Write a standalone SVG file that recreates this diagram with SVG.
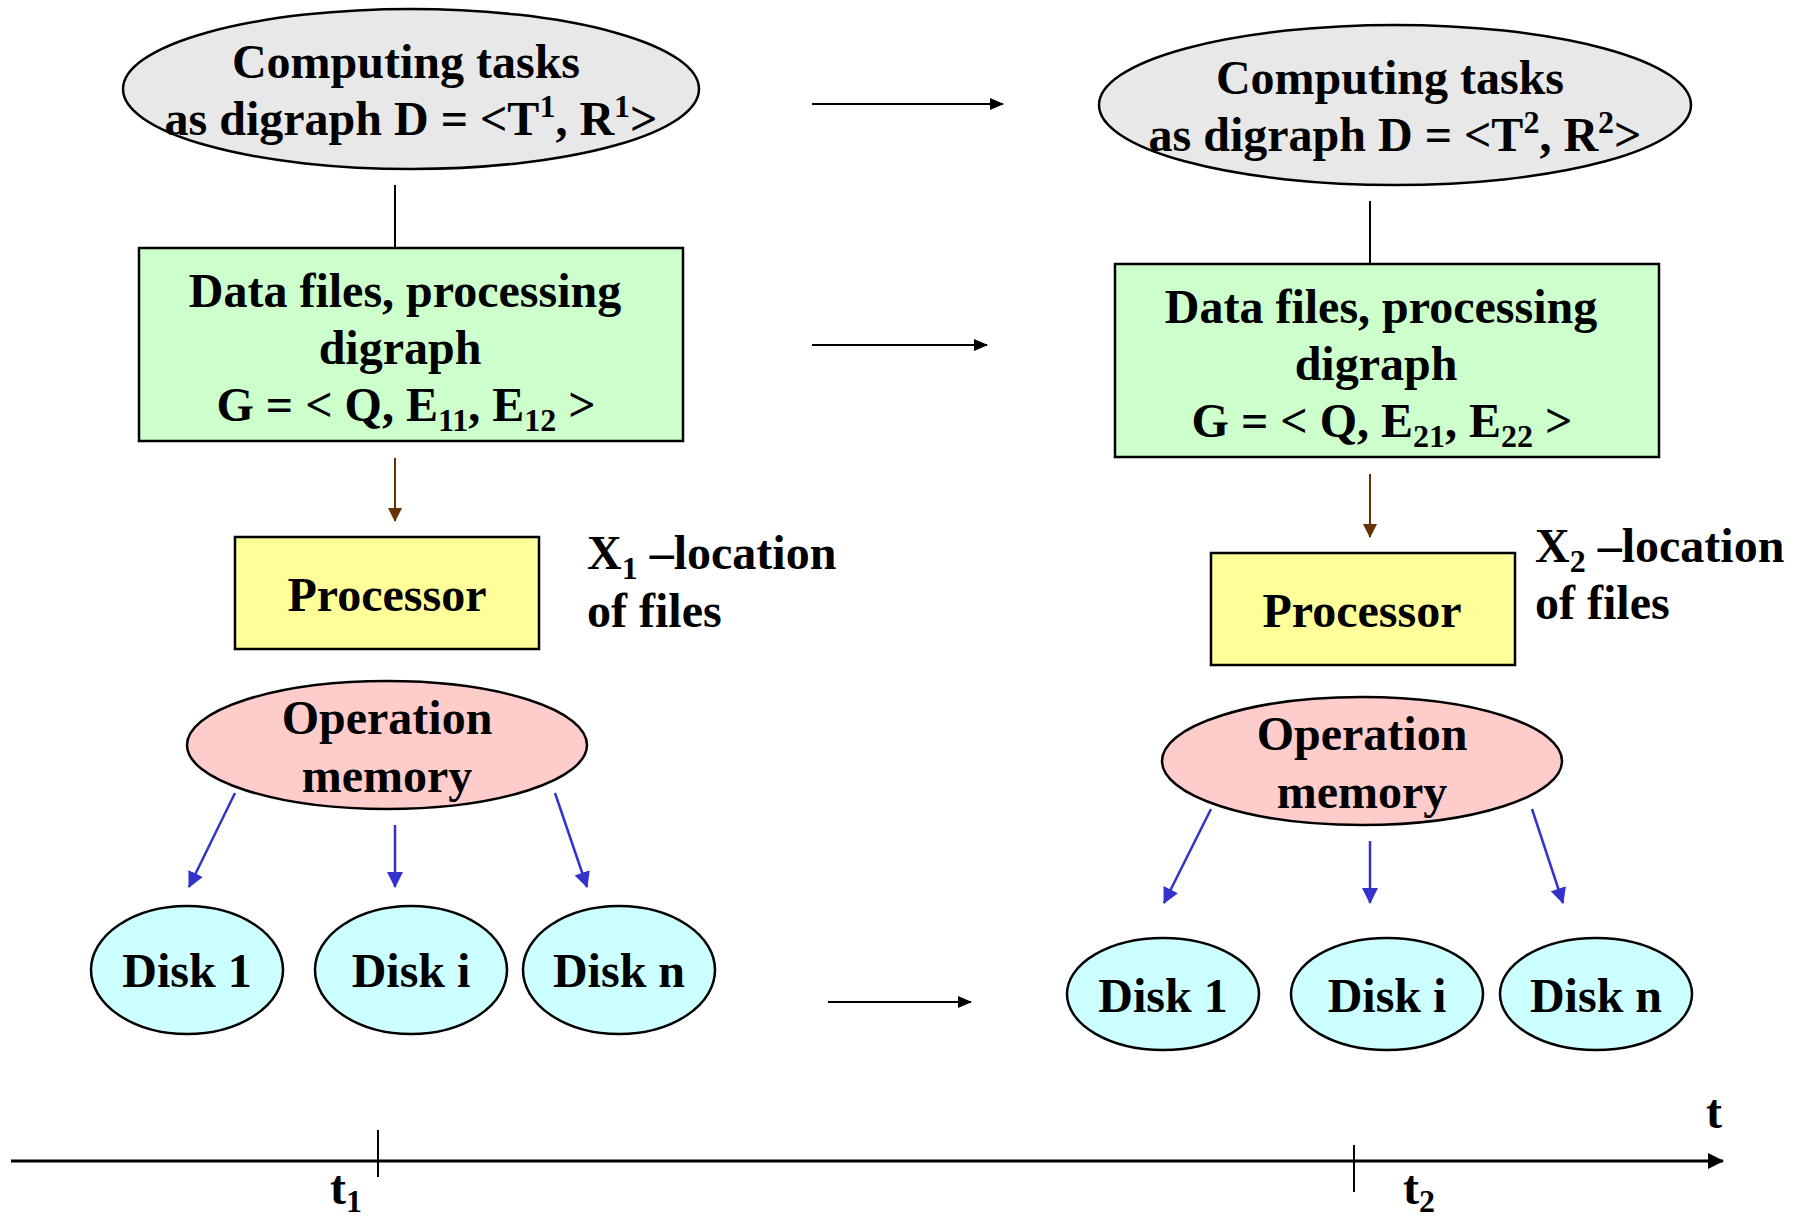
<svg xmlns="http://www.w3.org/2000/svg" width="1795" height="1221" viewBox="0 0 1795 1221">
<defs>
<style>
.t{font-family:"Liberation Serif","Times New Roman",serif;font-weight:bold;font-size:48px;fill:#000;text-anchor:middle}
.l{text-anchor:start}
.sm{font-size:32px}
.node{stroke:#000;stroke-width:2.5}
.gray{fill:#e8e8e8}
.green{fill:#ccffcc}
.yellow{fill:#ffff99}
.pink{fill:#ffcccc}
.cyan{fill:#ccffff}
.blk{stroke:#000;stroke-width:2;fill:none}
.brn{stroke:#663300;stroke-width:2;fill:none}
.blu{stroke:#3333cc;stroke-width:2.5;fill:none}
</style>
<marker id="ab" markerWidth="14" markerHeight="12" refX="13" refY="6" orient="auto" markerUnits="userSpaceOnUse" viewBox="0 0 14 12"><path d="M0,0 L14,6 L0,12 z" fill="#000"/></marker>
<marker id="abr" markerWidth="14" markerHeight="14" refX="13" refY="7" orient="auto" markerUnits="userSpaceOnUse" viewBox="0 0 14 14"><path d="M0,0 L14,7 L0,14 z" fill="#663300"/></marker>
<marker id="abl" markerWidth="16" markerHeight="16" refX="15" refY="8" orient="auto" markerUnits="userSpaceOnUse" viewBox="0 0 16 16"><path d="M0,0 L16,8 L0,16 z" fill="#3333cc"/></marker>
<marker id="aax" markerWidth="16" markerHeight="16" refX="15" refY="8" orient="auto" markerUnits="userSpaceOnUse" viewBox="0 0 16 16"><path d="M0,0 L16,8 L0,16 z" fill="#000"/></marker>
</defs>
<rect width="1795" height="1221" fill="#fff"/>

<g id="connectors">
<line class="blk" x1="395" y1="185" x2="395" y2="248"/>
<line class="blk" x1="1370" y1="201" x2="1370" y2="264"/>
<line class="brn" x1="395" y1="458" x2="395" y2="521" marker-end="url(#abr)"/>
<line class="brn" x1="1370" y1="474" x2="1370" y2="537" marker-end="url(#abr)"/>
<line class="blu" x1="235" y1="793" x2="189" y2="887" marker-end="url(#abl)"/>
<line class="blu" x1="395" y1="825" x2="395" y2="887" marker-end="url(#abl)"/>
<line class="blu" x1="555" y1="793" x2="587" y2="887" marker-end="url(#abl)"/>
<line class="blu" x1="1211" y1="809" x2="1164" y2="903" marker-end="url(#abl)"/>
<line class="blu" x1="1370" y1="841" x2="1370" y2="903" marker-end="url(#abl)"/>
<line class="blu" x1="1532" y1="809" x2="1563" y2="903" marker-end="url(#abl)"/>
<line class="blk" x1="812" y1="104" x2="1003" y2="104" marker-end="url(#ab)"/>
<line class="blk" x1="812" y1="345" x2="987" y2="345" marker-end="url(#ab)"/>
<line class="blk" x1="828" y1="1002" x2="971" y2="1002" marker-end="url(#ab)"/>
</g>

<g id="timeaxis">
<line x1="11" y1="1161" x2="1723" y2="1161" stroke="#000" stroke-width="3" marker-end="url(#aax)"/>
<line class="blk" x1="378" y1="1130" x2="378" y2="1177"/>
<line class="blk" x1="1354" y1="1145" x2="1354" y2="1192"/>
<text class="t" x="1714" y="1128">t</text>
<text class="t l" x="330" y="1204">t<tspan class="sm" dy="8">1</tspan></text>
<text class="t l" x="1403" y="1204">t<tspan class="sm" dy="8">2</tspan></text>
</g>

<g id="tasks1">
<ellipse class="node gray" cx="411" cy="89" rx="288" ry="80"/>
<text class="t" x="406" y="78">Computing tasks</text>
<text class="t" x="411" y="135">as digraph D = &lt;T<tspan class="sm" dy="-18">1</tspan><tspan dy="18">, R</tspan><tspan class="sm" dy="-18">1</tspan><tspan dy="18">&gt;</tspan></text>
</g>
<g id="tasks2">
<ellipse class="node gray" cx="1395" cy="105" rx="296" ry="80"/>
<text class="t" x="1390" y="94">Computing tasks</text>
<text class="t" x="1395" y="151">as digraph D = &lt;T<tspan class="sm" dy="-18">2</tspan><tspan dy="18">, R</tspan><tspan class="sm" dy="-18">2</tspan><tspan dy="18">&gt;</tspan></text>
</g>

<g id="files1">
<rect class="node green" x="139" y="248" width="544" height="193"/>
<text class="t" x="405" y="307">Data files, processing</text>
<text class="t" x="400" y="364">digraph</text>
<text class="t" x="406" y="421">G = &lt; Q, E<tspan class="sm" dy="10">11</tspan><tspan dy="-10">, E</tspan><tspan class="sm" dy="10">12</tspan><tspan dy="-10"> &gt;</tspan></text>
</g>
<g id="files2">
<rect class="node green" x="1115" y="264" width="544" height="193"/>
<text class="t" x="1381" y="323">Data files, processing</text>
<text class="t" x="1376" y="380">digraph</text>
<text class="t" x="1382" y="437">G = &lt; Q, E<tspan class="sm" dy="10">21</tspan><tspan dy="-10">, E</tspan><tspan class="sm" dy="10">22</tspan><tspan dy="-10"> &gt;</tspan></text>
</g>

<g id="proc1">
<rect class="node yellow" x="235" y="537" width="304" height="112"/>
<text class="t" x="387" y="611">Processor</text>
</g>
<g id="proc2">
<rect class="node yellow" x="1211" y="553" width="304" height="112"/>
<text class="t" x="1362" y="627">Processor</text>
</g>

<g id="loc1">
<text class="t l" x="587" y="569">X<tspan class="sm" dy="10">1</tspan><tspan dy="-10"> –location</tspan></text>
<text class="t l" x="587" y="627">of files</text>
</g>
<g id="loc2">
<text class="t l" x="1535" y="562">X<tspan class="sm" dy="10">2</tspan><tspan dy="-10"> –location</tspan></text>
<text class="t l" x="1535" y="619">of files</text>
</g>

<g id="mem1">
<ellipse class="node pink" cx="387" cy="745" rx="200" ry="64"/>
<text class="t" x="387" y="734">Operation</text>
<text class="t" x="387" y="792">memory</text>
</g>
<g id="mem2">
<ellipse class="node pink" cx="1362" cy="761" rx="200" ry="64"/>
<text class="t" x="1362" y="750">Operation</text>
<text class="t" x="1362" y="808">memory</text>
</g>

<g id="disk1a"><ellipse class="node cyan" cx="187" cy="970" rx="96" ry="64"/><text class="t" x="187" y="987">Disk 1</text></g>
<g id="diskia"><ellipse class="node cyan" cx="411" cy="970" rx="96" ry="64"/><text class="t" x="411" y="987">Disk i</text></g>
<g id="diskna"><ellipse class="node cyan" cx="619" cy="970" rx="96" ry="64"/><text class="t" x="619" y="987">Disk n</text></g>
<g id="disk1b"><ellipse class="node cyan" cx="1163" cy="994" rx="96" ry="56"/><text class="t" x="1163" y="1012">Disk 1</text></g>
<g id="diskib"><ellipse class="node cyan" cx="1387" cy="994" rx="96" ry="56"/><text class="t" x="1387" y="1012">Disk i</text></g>
<g id="disknb"><ellipse class="node cyan" cx="1596" cy="994" rx="96" ry="56"/><text class="t" x="1596" y="1012">Disk n</text></g>
</svg>
